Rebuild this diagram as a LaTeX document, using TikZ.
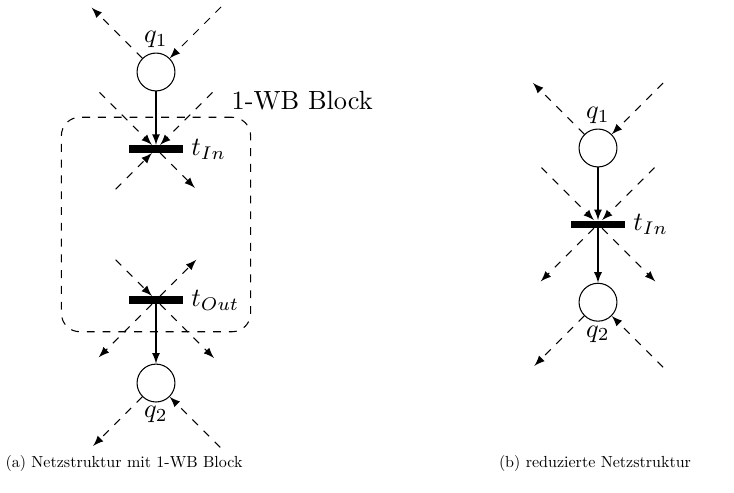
\documentclass[tikz,border=0pt]{standalone}
\usetikzlibrary{positioning}
\usetikzlibrary{fit, arrows}
\tikzstyle{place} = [circle, draw, minimum size=14.4pt, inner sep=0pt]
\tikzstyle{transition} = [rectangle, fill=black,
minimum width=20.5pt, minimum height=2.7pt, inner sep=0pt]
\tikzstyle{arrow} = [->,>=latex]
\tikzstyle{stub} = [dashed,->,>=latex]
\tikzstyle{block} = [draw, dashed, rounded corners=7pt,
inner xsep=25.5pt, inner ysep=10.5pt]
\tikzstyle{caption} = [scale=0.61] % normal text, shrunk

\begin{document}
\begin{tikzpicture}[x=0.38pt, y=0.38pt] % 1 unit = 1 px of the sketch
            \useasboundingbox (0,0) rectangle (734,-493);
            % (a) net with 1-WB block
            \node[place, label={[label distance=-1.5pt]above:$q_1$}] (a-q1) at (156,-72) {};
            \node[transition, below=20.3pt of a-q1, label={[label distance=-0.5pt]right:$t_{In}$}] (a-tin) {};
            \node[transition, below=54.3pt of a-tin, label={[label distance=-0.5pt]right:$t_{Out}$}] (a-tout) {};
            \node[place, below=22.6pt of a-tout, label={[label distance=-2pt]below:$q_2$}] (a-q2) {};
            \node[block, fit=(a-tin)(a-tout)] (a-block) {};
            \node[anchor=south west, inner sep=0pt] (a-blocklabel)
                at ([xshift=-7.6pt, yshift=2.3pt]a-block.north east) {1-WB Block};
            \draw[arrow] (a-q1) -- (a-tin);
            \draw[arrow] (a-tout) -- (a-q2);
            % (b) reduced net
            \node[place, label={[label distance=-1.5pt]above:$q_1$}] (b-q1) at (598,-148) {};
            \node[transition, below=20pt of b-q1, label={[label distance=-0.5pt]right:$t_{In}$}] (b-tin) {};
            \node[place, below=20.7pt of b-tin, label={[label distance=-2pt]below:$q_2$}] (b-q2) {};
            \draw[arrow] (b-q1) -- (b-tin);
            \draw[arrow] (b-tin) -- (b-q2);
            % dashed stubs into the nodes
            \foreach \nd/\ang/\len in {a-q1/45/92, a-tin/135/80, a-tin/45/80, a-tin/225/57,
                a-tout/135/57, a-q2/315/91, b-q1/45/92, b-tin/135/80, b-tin/45/80, b-q2/315/92}
            {
                \path (\nd) ++(\ang:\len) coordinate (\nd-\ang);
                \draw[stub] (\nd-\ang) -- (\nd);
            }
            % dashed stubs out of the nodes
            \foreach \nd/\ang/\len in {a-q1/135/91, a-tin/315/55, a-tout/45/57, a-tout/225/81,
                a-tout/315/82, a-q2/225/89, b-q1/135/92, b-tin/225/81, b-tin/315/81, b-q2/225/90}
            {
                \path (\nd) ++(\ang:\len) coordinate (\nd-\ang);
                \draw[stub] (\nd) -- (\nd-\ang);
            }
            % captions
            \node[caption] (a-caption) at (124,-463) {(a) Netzstruktur mit 1-WB Block};
            \node[caption] (b-caption) at (595,-463) {(b) reduzierte Netzstruktur};
        \end{tikzpicture}
\end{document}
